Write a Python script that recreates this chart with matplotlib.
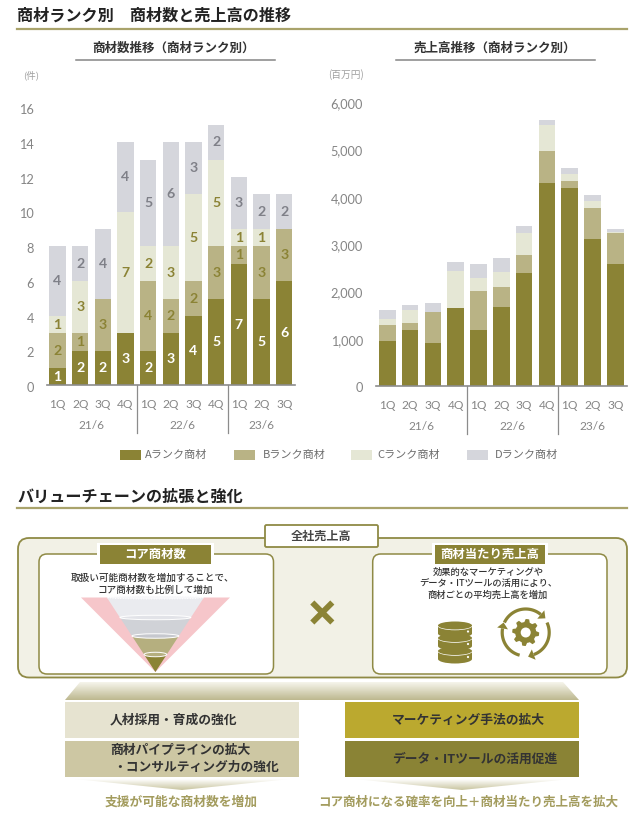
import numpy as np
import matplotlib
matplotlib.use("Agg")
import matplotlib.pyplot as plt
from matplotlib.patches import FancyBboxPatch, Polygon, Ellipse, Rectangle
from matplotlib.colors import LinearSegmentedColormap
from matplotlib.transforms import ScaledTranslation

plt.rcParams['font.family'] = ['Noto Sans CJK JP', 'DejaVu Sans']

W, H = 637, 818

quarters = ['1Q', '2Q', '3Q', '4Q', '1Q', '2Q', '3Q', '4Q', '1Q', '2Q', '3Q']
years = ['21/6', '22/6', '23/6']
rank_names = ['Aランク商材', 'Bランク商材', 'Cランク商材', 'Dランク商材']

# item counts per rank
count_a = [1, 2, 2, 3, 2, 3, 4, 5, 7, 5, 6]
count_b = [2, 1, 3, 0, 4, 2, 2, 3, 1, 3, 3]
count_c = [1, 3, 0, 7, 2, 3, 5, 5, 1, 1, 0]
count_d = [4, 2, 4, 4, 5, 6, 3, 2, 3, 2, 2]

# sales per rank (million yen)
sales_a = [940, 1175, 905, 1630, 1175, 1660, 2375, 4285, 4165, 3100, 2570]
sales_b = [340, 155, 650, 0, 830, 420, 380, 675, 155, 650, 650]
sales_c = [125, 275, 0, 795, 275, 315, 460, 540, 150, 155, 30]
sales_d = [190, 100, 185, 185, 295, 290, 155, 105, 125, 120, 50]

count_ticks = [0, 2, 4, 6, 8, 10, 12, 14, 16]
sales_ticks = [0, 1000, 2000, 3000, 4000, 5000, 6000]

col_a = '#8B8335'
col_b = '#B9B385'
col_c = '#E5E7D5'
col_d = '#D5D6DC'
rank_cols = [col_a, col_b, col_c, col_d]
label_cols = ['white', '#8B8335', '#8B8335', '#7F8088']
rule_col = '#A9A36B'
edge_col = '#8F8A45'
text_col = '#333333'
grey_txt = '#858585'

fig = plt.figure(figsize=(W / 100, H / 100), dpi=100, facecolor='white')


def px_axes(x0, x1, ytop, ybot):
    return fig.add_axes([x0 / W, 1 - ybot / H, (x1 - x0) / W, (ybot - ytop) / H])


def draw_chart(ax, stacks, width, xlim, ylim, ticks, fmt, pad, labels=False):
    x = np.arange(len(quarters))
    bottom = np.zeros(len(quarters))
    for vals, c, lc in zip(stacks, rank_cols, label_cols):
        bars = ax.bar(x, vals, width, bottom=bottom, color=c, linewidth=0)
        if labels:
            txt = [str(v) if v else '' for v in vals]
            ax.bar_label(bars, labels=txt, label_type='center', color=lc,
                         fontsize=10.2, family='Lato', fontweight='bold')
        bottom += np.array(vals)
    ax.set_xlim(*xlim)
    ax.set_ylim(*ylim)
    ax.set_yticks(ticks)
    ax.set_yticklabels([fmt(t) for t in ticks], family='Lato', fontsize=9.2, color=grey_txt)
    ax.set_xticks(x)
    ax.set_xticklabels(quarters, family='Lato', fontsize=8.6, color=grey_txt)
    ax.tick_params(axis='y', length=0, pad=pad)
    ax.tick_params(axis='x', length=0, pad=10)
    # the numbers sit slightly under their gridline position in the original
    shift = ScaledTranslation(0, -1.6 / 100, fig.dpi_scale_trans)
    for t in ax.get_yticklabels():
        t.set_transform(t.get_transform() + shift)
    for s in ['top', 'left', 'right']:
        ax.spines[s].set_visible(False)
    ax.spines['bottom'].set_color('#8C8C8C')
    ax.spines['bottom'].set_linewidth(1.2)
    tr = ax.get_xaxis_transform()
    hgt = ax.get_window_extent().height
    for pos, yr in zip([1.5, 5.5, 9], years):
        ax.text(pos, -40.5 / hgt, yr, transform=tr, ha='center', va='center',
                family='Lato', fontsize=8.6, color=grey_txt)
    for pos in [3.5, 7.5]:
        ax.plot([pos, pos], [0, -48 / hgt], transform=tr, color='#8C8C8C', lw=0.9, clip_on=False)


ax1 = px_axes(46.7, 295, 90, 385.5)
draw_chart(ax1, [count_a, count_b, count_c, count_d], 0.71, (-0.476, 10.476),
           (0, (385.5 - 90) / 17.38), count_ticks, str, 9, labels=True)

ax2 = px_axes(376, 626.7, 90, 385.7)
draw_chart(ax2, [sales_a, sales_b, sales_c, sales_d], 0.73, (-0.495, 10.5),
           (0, (385.7 - 90) / 0.0474), sales_ticks, lambda v: f'{v:,}', 9.4)

# overlay in pixel coordinates for headings, legend and the lower diagram
ov = fig.add_axes([0, 0, 1, 1], zorder=5)
ov.set_xlim(0, W)
ov.set_ylim(H, 0)
ov.axis('off')
ov.patch.set_alpha(0)


def label(x, y, s, size=8, color=text_col, weight='normal', ha='center'):
    ov.text(x, y, s, fontsize=size, color=color, fontweight=weight, ha=ha, va='center')


def round_box(x0, y0, x1, y1, r, fc, ec, lw=1.1):
    ov.add_patch(FancyBboxPatch((x0, y0), x1 - x0, y1 - y0, boxstyle=f'round,pad=0,rounding_size={r}',
                                fc=fc, ec=ec, lw=lw))


def grad_poly(pts, c0, c1):
    # vertical fade clipped to a polygon
    cmap = LinearSegmentedColormap.from_list('g', [c0, c1])
    xs = [p[0] for p in pts]
    ys = [p[1] for p in pts]
    im = ov.imshow(np.linspace(0, 1, 64).reshape(-1, 1), cmap=cmap, aspect='auto',
                   extent=(min(xs), max(xs), max(ys), min(ys)), zorder=2)
    clip = Polygon(pts, closed=True, transform=ov.transData, fc='none', ec='none')
    ov.add_patch(clip)
    im.set_clip_path(clip)
    ov.set_xlim(0, W)
    ov.set_ylim(H, 0)


# headings
label(17, 16, '商材ランク別　商材数と売上高の推移', 11.6, '#222222', 'bold', 'left')
ov.plot([17, 627], [29, 29], color=rule_col, lw=1.6)
label(173, 48, '商材数推移（商材ランク別）', 9, '#333333', 'bold')
ov.plot([76, 275], [60, 60], color='#858585', lw=1.1)
label(495, 48, '売上高推移（商材ランク別）', 9, '#333333', 'bold')
ov.plot([396, 595], [59.5, 59.5], color='#858585', lw=1.1)
label(31, 75, '(件)', 6.8, '#A0A0A0')
label(346, 75, '(百万円)', 7, '#A0A0A0')

# legend
for x0, tx, name, c in zip([120, 234, 351, 467], [145, 263, 377, 495], rank_names, rank_cols):
    ov.add_patch(Rectangle((x0, 450), 21, 10, fc=c, ec='none'))
    label(tx, 455, name, 8, '#6E6E6E', 'normal', 'left')

label(17, 496.5, 'バリューチェーンの拡張と強化', 11.6, '#222222', 'bold', 'left')
ov.plot([17, 627], [508, 508], color=rule_col, lw=1.6)

# outer panel and tab
round_box(18, 538, 627, 677.5, 11, '#F2F1E6', edge_col, 1.3)
round_box(265, 525, 378, 547, 1.5, 'white', edge_col, 1.3)
label(321, 536, '全社売上高', 8.7, '#444444', 'bold')

# inner panels
round_box(39, 554, 273.5, 674, 8, 'white', edge_col)
round_box(372.7, 554, 607, 674, 8, 'white', edge_col)
for x0, x1, s in [(100, 211, 'コア商材数'), (435, 545, '商材当たり売上高')]:
    ov.add_patch(Rectangle((x0 - 3, 543), x1 - x0 + 6, 23, fc='white', ec='none'))
    ov.add_patch(Rectangle((x0, 545), x1 - x0, 19, fc=col_a, ec='none'))
    label((x0 + x1) / 2, 554.5, s, 8.9, 'white', 'bold')

label(152.5, 577.5, '取扱い可能商材数を増加することで、', 6.95, '#333333', 'medium')
label(155, 589.5, 'コア商材数も比例して増加', 6.95, '#333333', 'medium')
label(488, 572, '効果的なマーケティングや', 6.7, '#333333', 'medium')
label(488, 583.5, 'データ・ITツールの活用により、', 6.7, '#333333', 'medium')
label(488, 595, '商材ごとの平均売上高を増加', 6.7, '#333333', 'medium')

# funnel
apex_x, apex_y = 155.4, 672
top_y, half_top = 597.5, 48.5
ov.add_patch(Polygon([(81, top_y), (230, top_y), (apex_x, apex_y)], fc='#F6C6CA', ec='none'))


def half_width(y):
    return half_top * (apex_y - y) / (apex_y - top_y)


layers = [(top_y, 617.5, '#EAEBEF'), (617.5, 636, '#D0D2D7'), (636, 654.5, '#B5AF7F'), (654.5, apex_y, col_a)]
for y0, y1, c in layers:
    a, b = half_width(y0), half_width(y1)
    ov.add_patch(Polygon([(apex_x - a, y0), (apex_x + a, y0), (apex_x + b, y1), (apex_x - b, y1)], fc=c, ec='none'))
# each ring takes the colour of the layer above it
ring_cols = ['#F7F7F9', '#E2E3E8', '#C6C8CE', '#B5AF7F']
for (y0, y1, c), rc in zip(layers, ring_cols):
    a = half_width(y0)
    ov.add_patch(Ellipse((apex_x, y0), 2 * a, 3 if y0 == top_y else 4.5, fc=rc, ec='white', lw=0.7,
                         ls=':' if y0 == top_y else '-'))

# multiply sign
for dx in [-1, 1]:
    ov.plot([322.3 - 10 * dx, 322.3 + 10 * dx], [602.5, 622.5], color=col_a, lw=4.2, solid_capstyle='butt')

# database icon
db_x, db_w = 455, 34
for y0 in [651, 638, 625.5]:
    ov.add_patch(Ellipse((db_x, y0 + 8), db_w, 9, fc=col_a, ec='none'))
    ov.add_patch(Rectangle((db_x - db_w / 2, y0), db_w, 8, fc=col_a, ec='none'))
    ov.add_patch(Ellipse((db_x, y0), db_w + 1.5, 9.5, fc='white', ec='none'))
    ov.add_patch(Ellipse((db_x, y0), db_w, 8, fc=col_a, ec='none'))
    ov.add_patch(Ellipse((db_x + 13, y0 + 6), 2.2, 2.2, fc='white', ec='none'))

# gear icon
gx, gy = 525.7, 632.5
ang = np.radians(np.arange(0, 360, 7.5))
rad = np.where((np.arange(len(ang)) % 6) < 3, 13.5, 10.5)
ov.add_patch(Polygon(np.c_[gx + rad * np.cos(ang), gy + rad * np.sin(ang)], fc=col_a, ec='none'))
ov.add_patch(Ellipse((gx, gy), 10, 10, fc='white', ec='none'))
for a0, a1 in [(155, 50), (25, -70), (-105, -190)]:
    t = np.radians(np.linspace(a0, a1, 40))
    ov.plot(gx + 23.5 * np.cos(t), gy - 23.5 * np.sin(t), color=col_a, lw=2.3, solid_capstyle='butt')
    e = np.radians(a1)
    px, py = gx + 23.5 * np.cos(e), gy - 23.5 * np.sin(e)
    tx, ty = np.sin(e), np.cos(e)  # clockwise tangent on screen
    nx, ny = np.cos(e), -np.sin(e)
    ov.add_patch(Polygon([(px + 6 * tx, py + 6 * ty), (px + 5.5 * nx, py + 5.5 * ny),
                          (px - 5.5 * nx, py - 5.5 * ny)], fc=col_a, ec='none'))

# lower boxes and fades
grad_poly([(80, 682), (563, 682), (579, 700), (65, 700)], '#F6F5EC', '#BDB88F')
boxes = [(65, 299, 702, 738, '#E6E3D0'), (65, 299, 741, 777, '#CDC7A3'),
         (345, 579, 702, 738, '#BBA92F'), (345, 579, 741, 777, '#8A8335')]
for x0, x1, y0, y1, c in boxes:
    ov.add_patch(Rectangle((x0, y0), x1 - x0, y1 - y0, fc=c, ec='none'))
label(110, 720, '人材採用・育成の強化', 9.2, '#333333', 'bold', 'left')
label(110, 750.5, '商材パイプラインの拡大', 9.2, '#333333', 'bold', 'left')
label(113, 767, '・コンサルティング力の強化', 9.2, '#333333', 'bold', 'left')
label(392, 720, 'マーケティング手法の拡大', 9.2, '#333333', 'bold', 'left')
label(392, 759, 'データ・ITツールの活用促進', 9.2, '#333333', 'bold', 'left')
grad_poly([(75, 779), (290, 779), (182, 790)], '#FFFFFF', '#C9C5A0')
grad_poly([(355, 779), (570, 779), (462, 790)], '#FFFFFF', '#C9C5A0')
label(181, 802, '支援が可能な商材数を増加', 9.2, '#A39C5E', 'bold')
label(468, 802, 'コア商材になる確率を向上＋商材当たり売上高を拡大', 9.0, '#A39C5E', 'bold')

fig.savefig('out.png', dpi=100)
